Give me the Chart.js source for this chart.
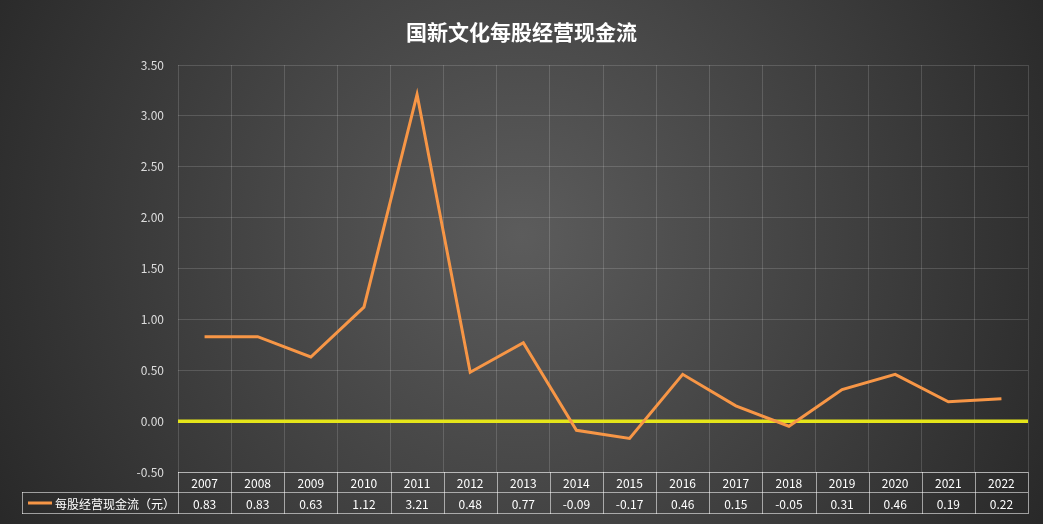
<!DOCTYPE html>
<html><head><meta charset="utf-8">
<script src="https://cdn.jsdelivr.net/npm/chart.js@4"></script>
<style>html,body{margin:0;padding:0;background:#333}canvas{display:block}</style>
</head><body>
<div style="width:1043px;height:524px"><canvas id="c" width="1043" height="524"></canvas></div>
<script>
const title = "国新文化每股经营现金流";
const seriesName = "每股经营现金流（元）";
const years = ["2007","2008","2009","2010","2011","2012","2013","2014","2015","2016","2017","2018","2019","2020","2021","2022"];
const values = [0.83,0.83,0.63,1.12,3.21,0.48,0.77,-0.09,-0.17,0.46,0.15,-0.05,0.31,0.46,0.19,0.22];
const F = "'Microsoft YaHei','Noto Sans CJK SC',sans-serif";
const deco = {
  id:'deco',
  beforeDraw(ch){
    const c=ch.ctx,W=ch.width,H=ch.height;
    const g=c.createRadialGradient(W/2,H*0.45,0,W/2,H*0.45,W*0.6);
    g.addColorStop(0,'#5c5c5c');g.addColorStop(1,'#262626');
    c.save();c.fillStyle=g;c.fillRect(0,0,W,H);c.restore();
  },
  afterDatasetsDraw(ch){
    const c=ch.ctx,a=ch.chartArea,x=ch.scales.x;
    c.save();
    c.fillStyle='#fff';c.font="bold 21px "+F;c.textAlign='center';c.textBaseline='middle';
    c.fillText(title,ch.width/2,32);
    const r1=a.bottom,r2=r1+20,r3=r2+22,L=22;
    c.strokeStyle='rgba(255,255,255,0.55)';c.lineWidth=1;
    c.beginPath();
    c.moveTo(a.left,r1+0.5);c.lineTo(a.right,r1+0.5);
    c.moveTo(L,r2+0.5);c.lineTo(a.right,r2+0.5);
    c.moveTo(L,r3-0.5);c.lineTo(a.right,r3-0.5);
    c.moveTo(L+0.5,r2);c.lineTo(L+0.5,r3);
    const n=years.length,w=(a.right-a.left)/n;
    for(let i=0;i<=n;i++){const xx=Math.round(a.left+i*w)+0.5;c.moveTo(xx,r1);c.lineTo(xx,r3);}
    c.stroke();
    c.font="12px "+F;c.fillStyle='#fff';
    for(let i=0;i<n;i++){const xx=x.getPixelForValue(i);
      c.fillText(years[i],xx,(r1+r2)/2+1);c.fillText(values[i].toFixed(2),xx,(r2+r3)/2+1);}
    c.strokeStyle='#f79646';c.lineWidth=3;c.beginPath();c.moveTo(28,(r2+r3)/2);c.lineTo(52,(r2+r3)/2);c.stroke();
    c.textAlign='left';c.fillText(seriesName,55,(r2+r3)/2+1);
    c.restore();
  },
  beforeDatasetsDraw(ch){
    const c=ch.ctx,a=ch.chartArea,y=ch.scales.y.getPixelForValue(0);
    c.save();c.strokeStyle='#e5e51a';c.lineWidth=3.5;c.beginPath();c.moveTo(a.left,y);c.lineTo(a.right,y);c.stroke();c.restore();
  }
};
new Chart(document.getElementById('c'),{
  type:'line',
  data:{labels:years,datasets:[{label:seriesName,data:values,borderColor:'#f79646',borderWidth:3,pointRadius:0,tension:0,fill:false}]},
  options:{responsive:false,animation:false,
    layout:{padding:{top:65,right:15,bottom:52,left:0}},
    plugins:{legend:{display:false},title:{display:false},tooltip:{enabled:false}},
    scales:{
      x:{offset:true,grid:{offset:true,color:'rgba(255,255,255,0.15)',drawTicks:false},border:{display:false},ticks:{display:false},afterFit(s){s.height=0;}},
      y:{min:-0.5,max:3.5,grid:{color:'rgba(255,255,255,0.15)',drawTicks:false},border:{display:false},
        ticks:{stepSize:0.5,color:'#ddd',font:{size:12,family:F},padding:14,callback:v=>v.toFixed(2)},
        afterFit(s){s.width=178;}}
    }},
  plugins:[deco]
});
</script></body></html>
